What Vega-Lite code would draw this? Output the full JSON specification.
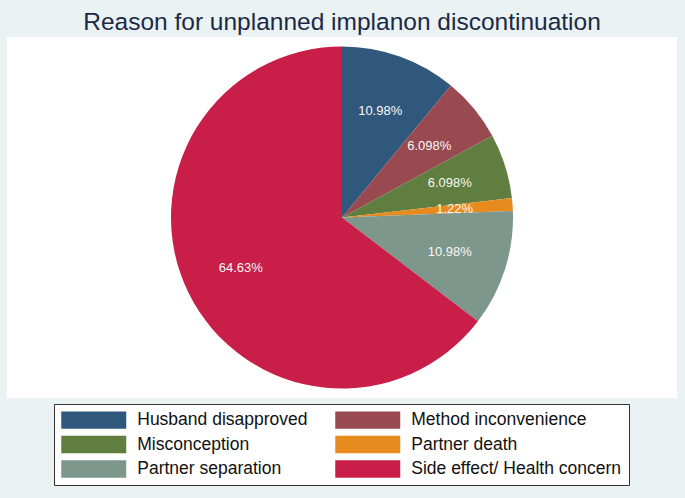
{
  "$schema": "https://vega.github.io/schema/vega-lite/v6.json",
  "autosize": {"type": "none"},
  "padding": {"left": 7, "top": 37, "right": 8, "bottom": 100},
  "width": 670,
  "height": 361,
  "background": "#eaf2f3",
  "view": {"fill": "#ffffff", "stroke": null},
  "title": {"text": "Reason for unplanned implanon discontinuation", "fontSize": 24.5, "font": "Liberation Sans", "fontWeight": "normal", "color": "#1c2946", "anchor": "middle", "offset": 2},
  "data": {"values": [
    {"reason": "Husband disapproved", "pct": 10.98, "label": "10.98%", "order": 1},
    {"reason": "Method inconvenience", "pct": 6.098, "label": "6.098%", "order": 2},
    {"reason": "Misconception", "pct": 6.098, "label": "6.098%", "order": 3},
    {"reason": "Partner death", "pct": 1.22, "label": "1.22%", "order": 4},
    {"reason": "Partner separation", "pct": 10.98, "label": "10.98%", "order": 5},
    {"reason": "Side effect/ Health concern", "pct": 64.63, "label": "64.63%", "order": 6}
  ]},
  "encoding": {
    "theta": {"field": "pct", "type": "quantitative", "stack": true},
    "order": {"field": "order", "type": "quantitative"}
  },
  "layer": [
    {
      "mark": {"type": "arc", "outerRadius": 171},
      "encoding": {
        "color": {
          "field": "reason", "type": "nominal",
          "scale": {
            "domain": ["Husband disapproved", "Method inconvenience", "Misconception", "Partner death", "Partner separation", "Side effect/ Health concern"],
            "range": ["#30587c", "#984a50", "#5f7e3f", "#e88b1f", "#7d978c", "#c81e47"]
          },
          "legend": {
            "title": null,
            "orient": "none",
            "legendX": 47,
            "legendY": 367,
            "direction": "horizontal",
            "columns": 2,
            "symbolType": "M-3.714,-1L3.714,-1L3.714,1L-3.714,1Z",
            "symbolSize": 306,
            "symbolStrokeWidth": 0,
            "symbolOffset": 23.75,
            "labelFont": "Liberation Sans",
            "labelFontSize": 17.5,
            "labelColor": "#111111",
            "labelLimit": 300,
            "labelOffset": 34.5,
            "columnPadding": 27,
            "rowPadding": 6.5,
            "padding": 7,
            "strokeColor": "#333333",
            "fillColor": "#ffffff"
          }
        }
      }
    },
    {
      "mark": {"type": "text", "radius": 113, "color": "#f8f8f8", "font": "Liberation Sans", "fontSize": 13},
      "encoding": {"text": {"field": "label"}}
    }
  ]
}
